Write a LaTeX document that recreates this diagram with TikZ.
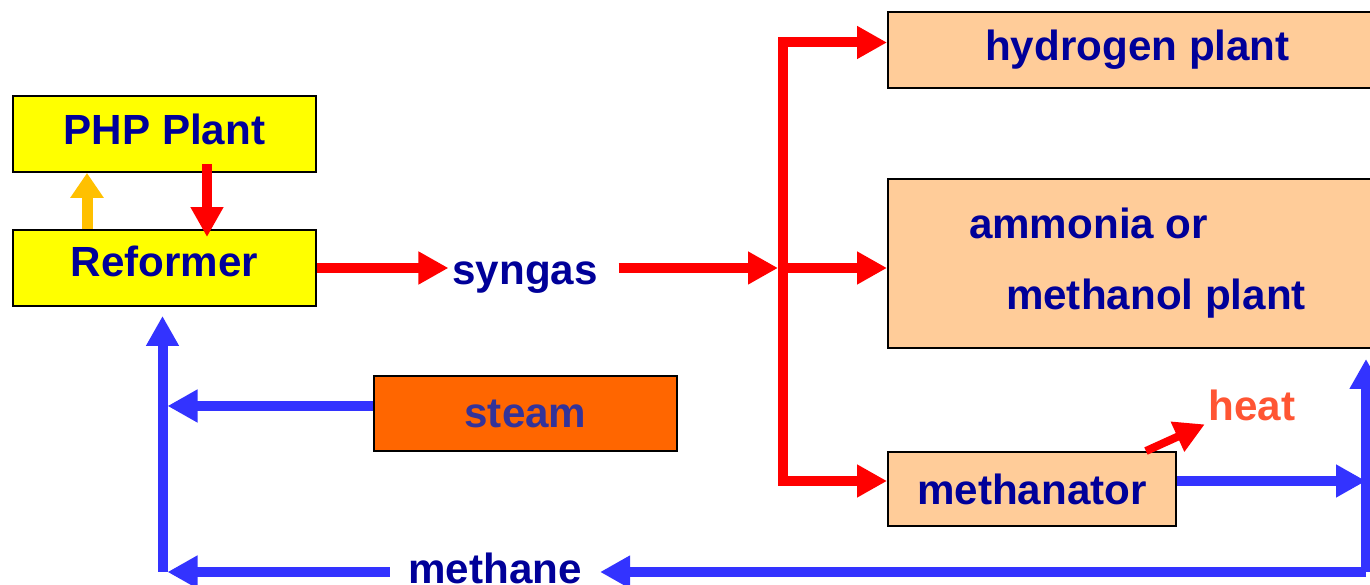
\documentclass[tikz,border=0pt]{standalone}
\usepackage{fontspec}
\setmainfont{Liberation Sans}
\usetikzlibrary{arrows.meta,positioning}
\definecolor{boxYellow}{HTML}{FFFF00}
\definecolor{plantPeach}{HTML}{FFCC99}
\definecolor{steamOrange}{HTML}{FF6600}
\definecolor{txtNavy}{HTML}{000099}
\definecolor{steamText}{HTML}{333399}
\definecolor{heatRed}{HTML}{FF5533}
\definecolor{flowRed}{HTML}{FF0000}
\definecolor{flowBlue}{HTML}{3333FF}
\definecolor{flowGold}{HTML}{FFC000}

\begin{document}
\begin{tikzpicture}[
  font=\fontsize{24}{28}\selectfont\bfseries,
  box/.style={draw=black, line width=1.1pt, text=txtNavy, align=center,
    inner sep=0pt, minimum height=1.52cm},
  redflow/.style={draw=flowRed, line width=0.2cm, -{Triangle[length=0.6cm,width=0.62cm]}},
  blueflow/.style={draw=flowBlue, line width=0.2cm, -{Triangle[length=0.6cm,width=0.62cm]}},
  goldflow/.style={draw=flowGold, line width=0.22cm, -{Triangle[length=0.5cm,width=0.64cm]}},
]
\clip (0,0) rectangle (27.4,11.7);
\node[box, fill=boxYellow, minimum width=6.06cm, text depth=0.2cm] (php) at (3.29,9.02) {PHP Plant};
\node[box, fill=boxYellow, minimum width=6.06cm, text depth=0.28cm] (reformer) at (3.29,6.34) {Reformer};
\node[box, fill=steamOrange, text=steamText, minimum width=6.06cm, minimum height=1.5cm] (steam) at (10.51,3.43) {steam};
\node[box, fill=plantPeach, minimum width=9.98cm] (hydrogen) at (22.75,10.70) {hydrogen plant};
\node[box, fill=plantPeach, minimum width=9.98cm, minimum height=3.38cm, align=left] (ammonia) at (22.75,6.43)
  {ammonia or\\[12.4pt]\hspace*{0.74cm}methanol plant};
\node[box, fill=plantPeach, minimum width=5.76cm, minimum height=1.48cm] (methanator) at (20.64,1.92) {methanator};
\node[text=txtNavy, inner sep=2pt, anchor=base] (syngas) at (10.5,6.0) {syngas};
\node[text=txtNavy, inner xsep=0.36cm, inner ysep=0pt, anchor=base] (methane) at (9.9,0.03) {methane};
\node[text=heatRed, inner sep=2pt] (heat) at (25.04,3.6) {heat};
\coordinate (split) at (15.66,6.34);
\coordinate (rcorner) at (27.32,0.26);
\coordinate (lcorner) at (3.25,0.26);
\path ([yshift=0.16cm]methanator.east) coordinate (mout);
\path ([yshift=0.15cm]steam.west) coordinate (sout);
% PHP loop
\draw[goldflow] ([xshift=-1.55cm]reformer.north) -- ([xshift=-1.55cm]php.south);
\draw[redflow] ([xshift=0.85cm,yshift=0.18cm]php.south) -- ([xshift=0.85cm,yshift=-0.16cm]reformer.north);
% syngas
\draw[redflow] (reformer.east) -- (reformer.east -| syngas.west);
\draw[redflow, shorten <=0.34cm, shorten >=0.1cm] (syngas.east |- split) -- (split);
\draw[redflow] (split) |- ([yshift=0.15cm]hydrogen.west);
\draw[redflow] (split) -- (split -| ammonia.west);
\draw[redflow] (split) |- ([yshift=0.16cm]methanator.west);
\draw[redflow, line width=0.16cm] ([xshift=-0.62cm]methanator.north east) -- (heat.south west);
% methane recycle
\draw[blueflow] (mout) -- (mout -| rcorner);
\draw[blueflow, shorten >=0.2cm] (rcorner) -- (rcorner |- ammonia.south);
\draw[blueflow] (rcorner) -- (rcorner -| methane.east);
\draw[blueflow, shorten >=0.1cm] (lcorner -| methane.west) -- (lcorner);
\draw[blueflow, shorten >=0.18cm] (lcorner) -- (lcorner |- reformer.south);
\draw[blueflow, shorten >=0.1cm] (sout) -- (sout -| lcorner);
\end{tikzpicture}
\end{document}
